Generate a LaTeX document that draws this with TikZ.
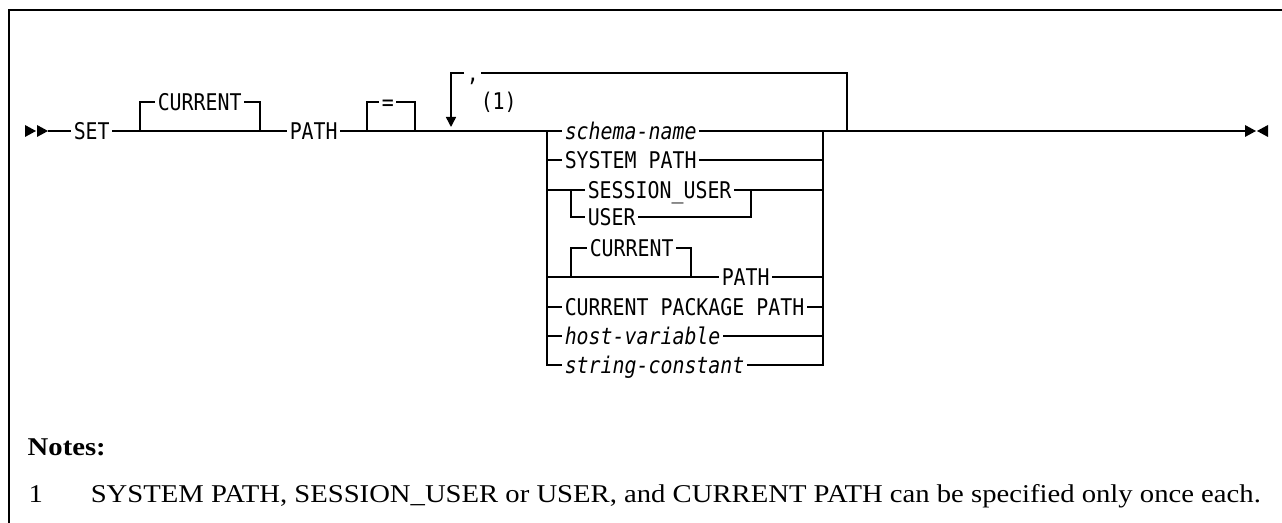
\documentclass[tikz,border=0pt]{standalone}
\usepackage{fontspec}
\setmainfont{Liberation Serif}[FakeStretch=1.12]
\newfontfamily\rrfont{DejaVu Sans Mono}[FakeStretch=0.865]
\usetikzlibrary{arrows.meta}
\begin{document}
\begin{tikzpicture}[x=0.5pt, y=-0.5pt, line width=0.75pt,
      rr/.style={inner xsep=1pt, inner ysep=0pt, text height=8.4pt,
                 text depth=0pt, anchor=west, font=\rrfont\fontsize{11.5}{13}\selectfont},
      rrvar/.style={rr, font=\rrfont\itshape\fontsize{11.5}{13}\selectfont},
      note/.style={inner sep=0pt, anchor=base west, font=\fontsize{12.8}{15}\selectfont}]
    \useasboundingbox (0,0) rectangle (1282,523);
    \draw[line width=1pt] (1282,10) -- (9,10) -- (9,523);
    % main line
    \coordinate (start) at (48,131);
    \node[rr] (set)  at (71,131)  {SET};
    \coordinate (c1) at (140,131);
    \coordinate (c2) at (260,131);
    \node[rr] (cur)  at (155,102) {CURRENT};
    \node[rr] (path) at (287,131) {PATH};
    \coordinate (e1) at (367,131);
    \coordinate (e2) at (415,131);
    \node[rr] (eq)   at (379,102) {=};
    \coordinate (loopl) at (451,127);
    \coordinate (ch1) at (547,131);
    \coordinate (ch2) at (823,131);
    \coordinate (loopr) at (847,131);
    \coordinate (stop) at (1245,131);
    \node[rr] (comma) at (464,73)  {,};
    \node[rr] (mark1) at (478,101) {(1)};
    \fill (start) ++(-23,-6) -- ++(11,6) -- ++(-11,6) -- cycle;
    \fill (start) ++(-11,-6) -- ++(11,6) -- ++(-11,6) -- cycle;
    \fill (stop) ++(0,-6) -- ++(11,6) -- ++(-11,6) -- cycle;
    \fill (stop) ++(23,-6) -- ++(-11,6) -- ++(11,6) -- cycle;
    \draw (start) -- (set.west);
    \draw (set.east) -- (c1) -- (c2) -- (path.west);
    \draw (c1) |- (cur.west);
    \draw (cur.east) -| (c2);
    \draw (path.east) -- (e1) -- (e2) -- (ch1);
    \draw (e1) |- (eq.west);
    \draw (eq.east) -| (e2);
    \draw (loopr) |- (comma.east);
    \draw[-{Triangle[width=5pt,length=5pt]}] (comma.west) -| (loopl);
    % choices
    \node[rrvar] (schema)   at (562,131) {schema-name};
    \node[rr]    (sys)      at (562,160) {SYSTEM PATH};
    \node[rr]    (sess)     at (585,190) {SESSION\_USER};
    \node[rr]    (user)     at (585,217) {USER};
    \node[rr]    (cur2)     at (587,248) {CURRENT};
    \node[rr]    (path2)    at (719,277) {PATH};
    \node[rr]    (pkg)      at (562,307) {CURRENT PACKAGE PATH};
    \node[rrvar] (hostvar)  at (562,336) {host-variable};
    \node[rrvar] (strconst) at (562,365) {string-constant};
    \coordinate (s1) at (571,190);
    \coordinate (s2) at (751,190);
    \coordinate (p1) at (571,277);
    \coordinate (p2) at (691,277);
    \draw (ch1) |- (strconst.west);
    \draw (ch2) |- (strconst.east);
    \draw (ch1) -- (schema.west);
    \draw (schema.east) -- (ch2);
    \draw (ch1 |- sys.west) -- (sys.west);
    \draw (sys.east) -- (ch2 |- sys.east);
    \draw (ch1 |- sess.west) -- (sess.west);
    \draw (sess.east) -- (ch2 |- sess.east);
    \draw (s1) |- (user.west);
    \draw (user.east) -| (s2);
    \draw (ch1 |- path2.west) -- (path2.west);
    \draw (path2.east) -- (ch2 |- path2.east);
    \draw (p1) |- (cur2.west);
    \draw (cur2.east) -| (p2);
    \draw (ch1 |- pkg.west) -- (pkg.west);
    \draw (pkg.east) -- (ch2 |- pkg.east);
    \draw (ch1 |- hostvar.west) -- (hostvar.west);
    \draw (hostvar.east) -- (ch2 |- hostvar.east);
    \draw (ch2) -- (loopr) -- (stop);
    % notes
    \node[note, font=\bfseries\fontsize{12.8}{15}\selectfont] (notes) at (27,456) {Notes:};
    \node[note] (num)      at (28,503) {1};
    \node[note] (notetext) at (90,503) {SYSTEM PATH, SESSION\_USER or USER, and CURRENT PATH can be specified only once each.};
\end{tikzpicture}
\end{document}
